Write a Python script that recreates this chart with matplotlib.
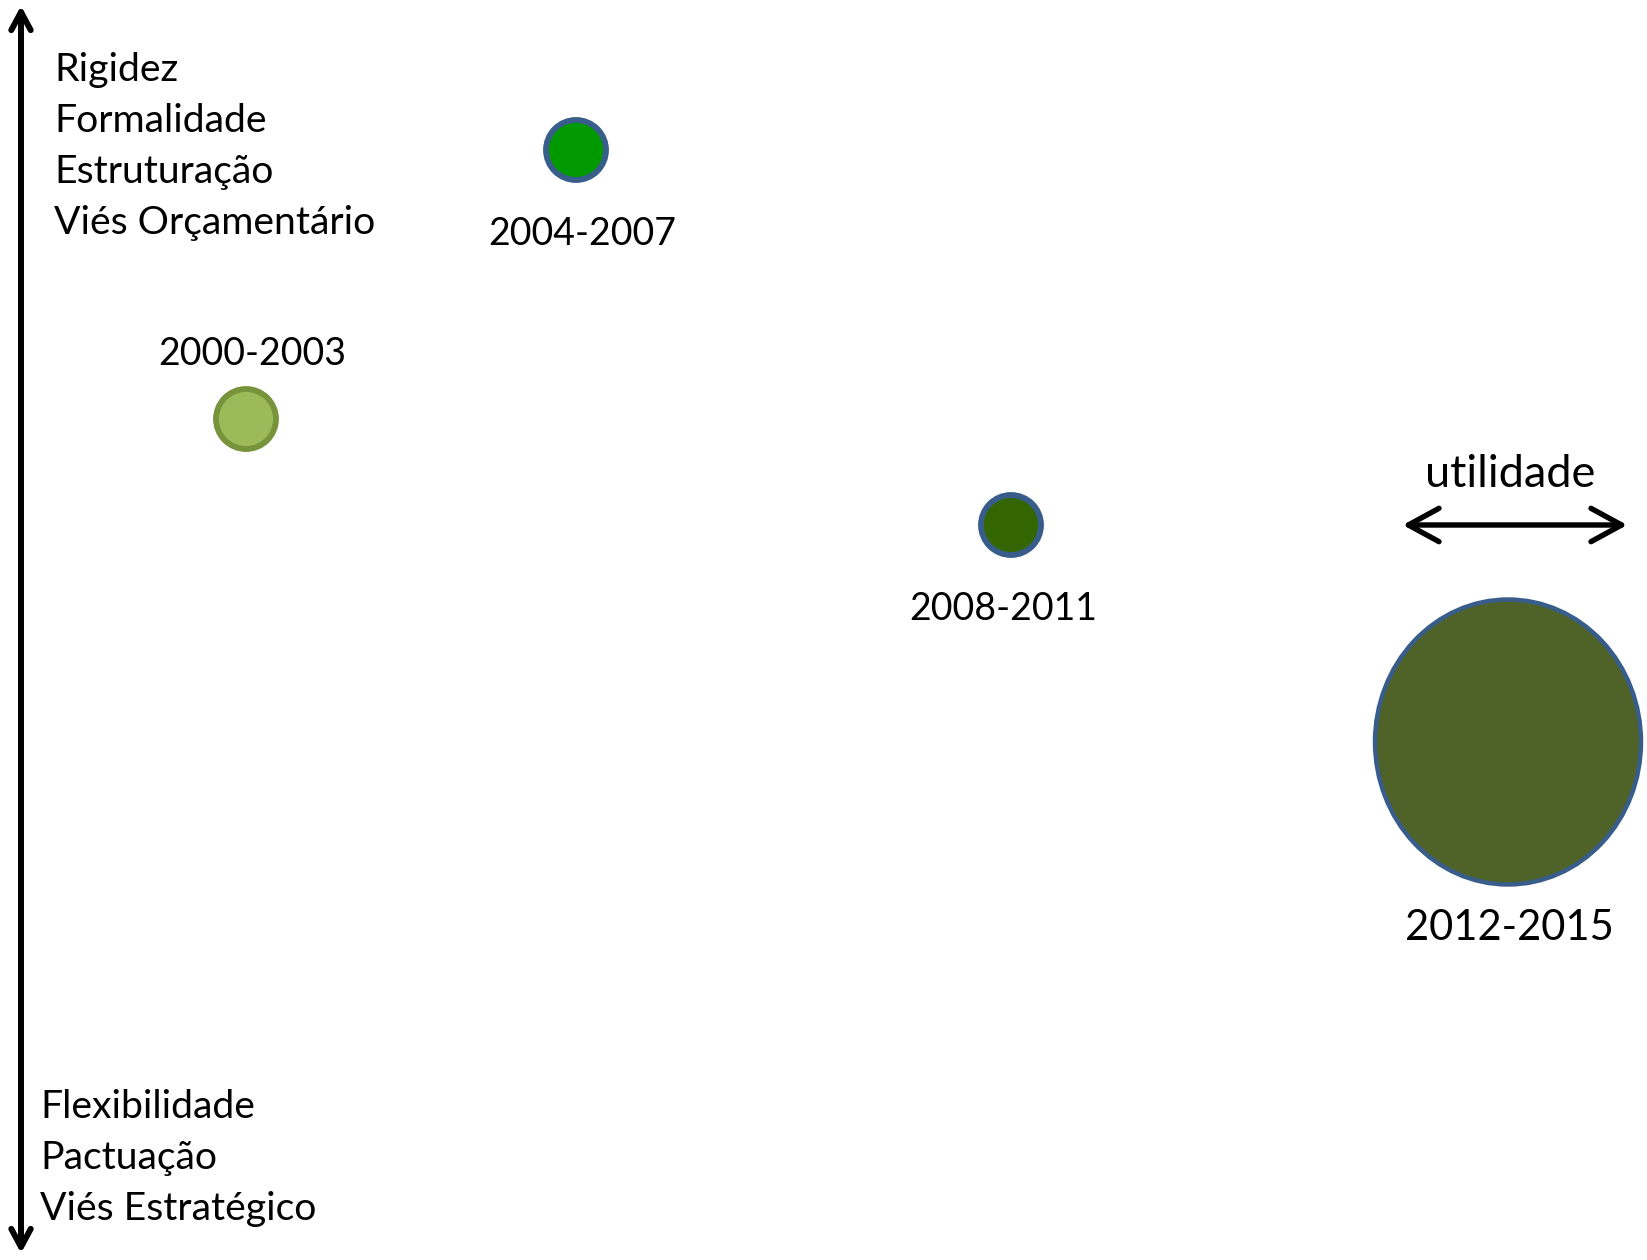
import matplotlib
matplotlib.use("Agg")
import matplotlib.pyplot as plt
from matplotlib.patches import Ellipse, FancyArrowPatch

# ---- data ----
periods = ["2000-2003", "2004-2007", "2008-2011", "2012-2015"]
utilidade = [246, 576, 1011, 1508]        # horizontal position (utility)
rigidez = [419, 150, 525, 742]            # vertical position (rigidity, top = rigid)
largura = [60, 60, 60, 266]               # bubble width
altura = [60, 60, 60, 285]                # bubble height
top_labels = ["Rigidez", "Formalidade", "Estruturação", "Viés Orçamentário"]
bottom_labels = ["Flexibilidade", "Pactuação", "Viés Estratégico"]

fills = ["#9BBB59", "#009900", "#336600", "#4F6228"]
edges = ["#77933C", "#385D8A", "#385D8A", "#385D8A"]
edge_w = [4.2, 4.2, 4.2, 3.2]

W, H = 1647, 1260
fig = plt.figure(figsize=(W / 100, H / 100), dpi=100)
ax = fig.add_axes([0, 0, 1, 1])
ax.set_xlim(0, W)
ax.set_ylim(H, 0)
ax.set_aspect("equal")
ax.axis("off")

FONT = "Lato"
fs = 27
fs_words = 28.2
fs_big = 30

# bubbles
for x, y, w, h, fc, ec, lw in zip(utilidade, rigidez, largura, altura, fills, edges, edge_w):
    ax.add_patch(Ellipse((x, y), w, h, facecolor=fc, edgecolor=ec, linewidth=lw, zorder=3))

# period labels (offset from bubble)
label_off = [(6, -54), (6, 95), (-8, 95), (1, 198)]
sizes = [fs, fs, fs, fs_big]
for p, x, y, (dx, dy), s in zip(periods, utilidade, rigidez, label_off, sizes):
    ax.text(x + dx, y + dy, p, ha="center", va="baseline", fontsize=s,
            family=FONT, color="black")

# vertical axis arrow
ax.add_patch(FancyArrowPatch((21, 1256), (21, 3),
                             arrowstyle="<->,head_length=13,head_width=7",
                             mutation_scale=1, linewidth=4.3, color="black",
                             capstyle="round", joinstyle="round", zorder=2))

# horizontal utility arrow
ax.add_patch(FancyArrowPatch((1400, 525), (1630, 525),
                             arrowstyle="<->,head_length=22,head_width=12",
                             mutation_scale=1, linewidth=3.9, color="black",
                             capstyle="round", joinstyle="round", zorder=2))
ax.text(1510, 487, "utilidade", ha="center", va="baseline", fontsize=32.5,
        family=FONT, color="black")

# axis pole labels
for i, t in enumerate(top_labels):
    ax.text(54, 81 + 51 * i, t, ha="left", va="baseline", fontsize=fs_words,
            family=FONT, color="black")
for i, t in enumerate(bottom_labels):
    ax.text(40, 1118 + 51 * i, t, ha="left", va="baseline", fontsize=fs_words,
            family=FONT, color="black")

fig.savefig("out.png", dpi=100, facecolor="white")
